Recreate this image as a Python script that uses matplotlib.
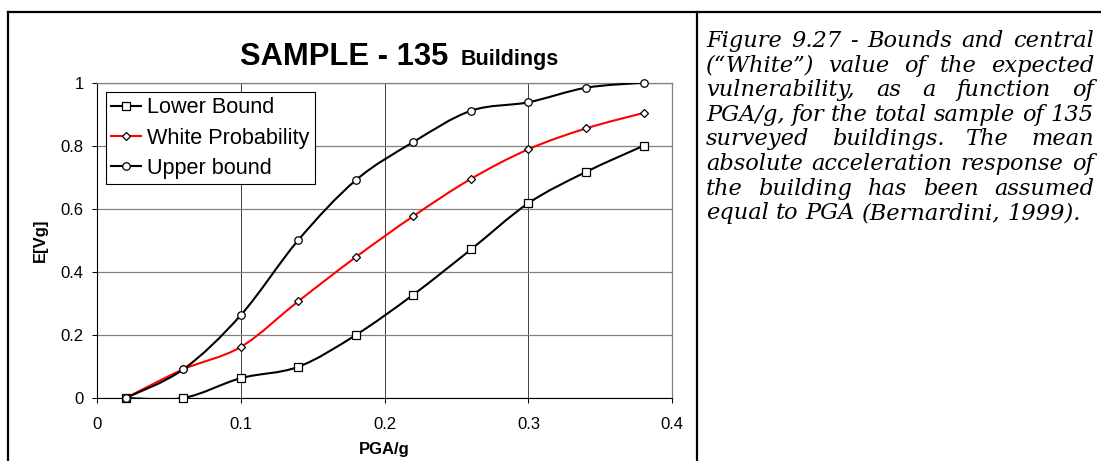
import numpy as np
import matplotlib
matplotlib.use("Agg")
import matplotlib.pyplot as plt
from matplotlib.path import Path
from matplotlib.patches import PathPatch
from matplotlib.lines import Line2D

# values
pga = [0.02, 0.06, 0.10, 0.14, 0.18, 0.22, 0.26, 0.30, 0.34, 0.38]
lower_bound = [0.0, 0.0, 0.063, 0.099, 0.200, 0.328, 0.471, 0.618, 0.717, 0.800]
white_prob = [0.0, 0.091, 0.162, 0.307, 0.447, 0.577, 0.695, 0.789, 0.855, 0.904]
upper_bound = [0.0, 0.091, 0.263, 0.501, 0.691, 0.812, 0.911, 0.938, 0.984, 1.0]
x_ticks = [0, 0.1, 0.2, 0.3, 0.4]
x_labels = ["0", "0.1", "0.2", "0.3", "0.4"]
y_ticks = [0, 0.2, 0.4, 0.6, 0.8, 1.0]
y_labels = ["0", "0.2", "0.4", "0.6", "0.8", "1"]
caption = [
    "Figure 9.27 - Bounds and central",
    "(\u201cWhite\u201d) value of the expected",
    "vulnerability, as a function of",
    "PGA/g, for the total sample of 135",
    "surveyed buildings. The mean",
    "absolute acceleration response of",
    "the building has been assumed",
    "equal to PGA (Bernardini, 1999).",
]

W, H = 1101, 461
plt.rcParams["font.family"] = ["Liberation Sans", "DejaVu Sans"]
fig = plt.figure(figsize=(W / 100, H / 100), dpi=100)
ax = fig.add_axes([97 / W, 1 - 398 / H, 575.3 / W, 315.3 / H])


def smooth(xs, ys):
    # excel style smoothed line (catmull-rom as bezier segments)
    pts = np.column_stack([xs, ys])
    n = len(pts)
    verts = [pts[0]]
    codes = [Path.MOVETO]
    for i in range(n - 1):
        p0 = pts[i - 1] if i > 0 else pts[i]
        p3 = pts[i + 2] if i + 2 < n else pts[i + 1]
        verts += [pts[i] + (pts[i + 1] - p0) / 6,
                  pts[i + 1] - (p3 - pts[i]) / 6,
                  pts[i + 1]]
        codes += [Path.CURVE4] * 3
    return Path(verts, codes)


series = [
    ("Lower Bound", lower_bound, "black", "s", 5.4),
    ("White Probability", white_prob, "red", "D", 4.0),
    ("Upper bound", upper_bound, "black", "o", 5.4),
]
handles = []
for name, vals, col, mk, ms in series:
    ax.add_patch(PathPatch(smooth(pga, vals), fill=False, edgecolor=col,
                           lw=1.5, zorder=3))
    ax.plot(pga, vals, ls="none", marker=mk, ms=ms, mfc="white",
            mec="black", mew=0.9, zorder=4, clip_on=False)
    handles.append(Line2D([], [], color=col, lw=1.5, marker=mk, ms=ms,
                          mfc="white", mec="black", mew=0.9))

ax.set_xlim(0, 0.4)
ax.set_ylim(0, 1)
ax.set_xticks(x_ticks, x_labels)
ax.set_yticks(y_ticks, y_labels)
ax.tick_params(direction="out", length=3.6, width=0.72, labelsize=12,
               colors="black")
ax.tick_params(axis="x", pad=10)
ax.tick_params(axis="y", pad=6)
ax.grid(axis="y", color="#808080", lw=0.9)
ax.grid(axis="x", color="#404040", lw=0.7)
ax.set_axisbelow(True)
for s in ["top", "right"]:
    ax.spines[s].set_color("#808080")
    ax.spines[s].set_linewidth(0.9)
for s in ["left", "bottom"]:
    ax.spines[s].set_linewidth(0.8)

ax.set_xlabel("PGA/g", fontsize=12, fontweight="bold", labelpad=7)
ax.set_ylabel("E[Vg]", fontsize=12, fontweight="bold", labelpad=9)

leg = ax.legend(handles, [s[0] for s in series], loc="upper left",
                bbox_to_anchor=(0.0156, 0.9705), borderaxespad=0,
                fontsize=15.6, frameon=True, fancybox=False, framealpha=1,
                edgecolor="black", borderpad=0.25, labelspacing=0.42,
                handlelength=1.35, handletextpad=0.3)
leg.get_frame().set_linewidth(0.8)

fig.text(240 / W, 1 - 65 / H, "SAMPLE - 135", fontsize=22.2,
         fontweight="bold", va="baseline", ha="left")
fig.text(461 / W, 1 - 65 / H, "Buildings", fontsize=15.5,
         fontweight="bold", va="baseline", ha="left")

# table cell borders
for xs, ys in [([7.5, W], [12, 12]), ([7.5, 7.5], [12, H]),
               ([697, 697], [12, H])]:
    fig.add_artist(Line2D([x / W for x in xs], [1 - y / H for y in ys],
                          color="black", lw=1.6))

# justified caption, size chosen so the 4th line fills the column
renderer = fig.canvas.get_renderer()
x0, x1 = 706, 1094
kw = dict(fontfamily="DejaVu Serif", style="italic", va="baseline", ha="left")
probe = fig.text(0, 0, caption[3], fontsize=10, **kw)
fs = 10 * (x1 - x0) / probe.get_window_extent(renderer).width
probe.remove()
space = fs * 100 / 72 * 0.318
for i, line in enumerate(caption):
    words = line.split(" ")
    y = 1 - (47 + i * 24.6) / H
    texts = [fig.text(0, y, w, fontsize=fs, **kw) for w in words]
    widths = [t.get_window_extent(renderer).width for t in texts]
    if i == len(caption) - 1:
        gap = space
    else:
        gap = (x1 - x0 - sum(widths)) / (len(words) - 1)
    x = x0
    for t, w in zip(texts, widths):
        t.set_x(x / W)
        x += w + gap

fig.savefig("out.png", dpi=100)
